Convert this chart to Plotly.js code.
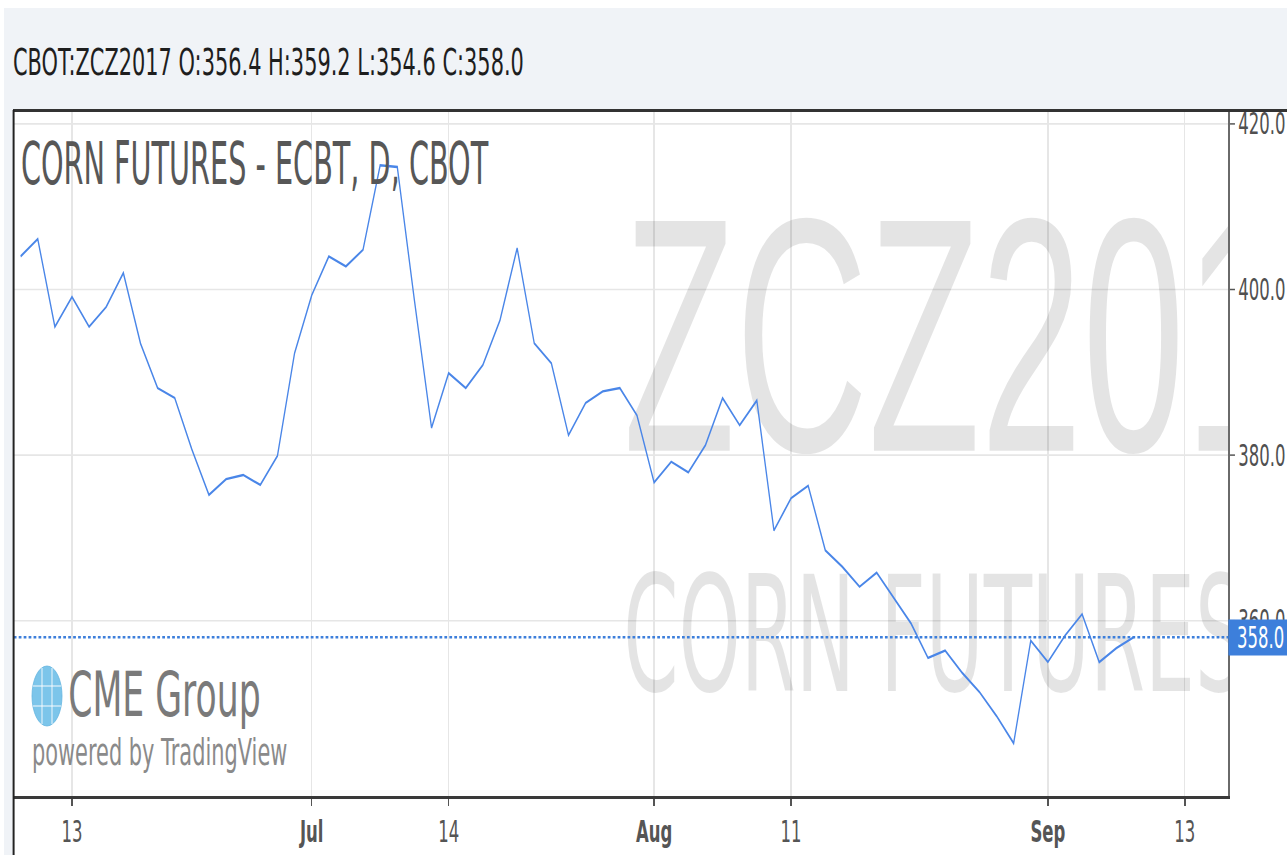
<!DOCTYPE html>
<html>
<head>
<meta charset="utf-8">
<script src="https://cdn.plot.ly/plotly-3.0.1.min.js"></script>
<style>
  html, body { margin: 0; padding: 0; overflow: hidden; background: #ffffff; }
  #wrap { width: 1287px; height: 855px; overflow: hidden; position: relative; }
  #chart { width: 2340px; height: 855px; transform: scaleX(0.55); transform-origin: 0 0; }
</style>
</head>
<body>
<div id="wrap"><div id="chart"></div></div>
<script>
// ---------------- data ----------------
const symbol = "CBOT:ZCZ2017";
const ohlc = { O: 356.4, H: 359.2, L: 354.6, C: 358.0 };
const chartTitle = "CORN FUTURES - ECBT, D, CBOT";
const watermarkLines = ["ZCZ2017", "CORN FUTURES"];

const tradingDays = [
  "2017-06-08","2017-06-09","2017-06-12","2017-06-13","2017-06-14","2017-06-15","2017-06-16",
  "2017-06-19","2017-06-20","2017-06-21","2017-06-22","2017-06-23","2017-06-26","2017-06-27",
  "2017-06-28","2017-06-29","2017-06-30","2017-07-03","2017-07-05","2017-07-06","2017-07-07",
  "2017-07-10","2017-07-11","2017-07-12","2017-07-13","2017-07-14","2017-07-17","2017-07-18",
  "2017-07-19","2017-07-20","2017-07-21","2017-07-24","2017-07-25","2017-07-26","2017-07-27",
  "2017-07-28","2017-07-31","2017-08-01","2017-08-02","2017-08-03","2017-08-04","2017-08-07",
  "2017-08-08","2017-08-09","2017-08-10","2017-08-11","2017-08-14","2017-08-15","2017-08-16",
  "2017-08-17","2017-08-18","2017-08-21","2017-08-22","2017-08-23","2017-08-24","2017-08-25",
  "2017-08-28","2017-08-29","2017-08-30","2017-08-31","2017-09-01","2017-09-04","2017-09-05",
  "2017-09-06","2017-09-07","2017-09-08"
];
const futureDays = ["2017-09-11","2017-09-12","2017-09-13","2017-09-14","2017-09-15"];

const closePrices = [
  404.0, 406.1, 395.5, 399.1, 395.5, 397.9, 402.0,
  393.5, 388.1, 386.9, 380.7, 375.2, 377.1, 377.6,
  376.4, 379.9, 392.3, 399.3, 404.0, 402.8, 404.8,
  415.0, 414.8, 398.7, 383.3, 389.9, 388.1, 390.9,
  396.3, 405.0, 393.5, 391.1, 382.4, 386.3, 387.7,
  388.1, 384.8, 376.7, 379.2, 377.9, 381.2, 386.9,
  383.6, 386.6, 370.9, 374.8, 376.3, 368.5, 366.5,
  364.1, 365.8, 362.7, 359.7, 355.5, 356.4, 353.7,
  351.4, 348.5, 345.2, 357.6, 355.0, 358.2, 360.8,
  355.0, 356.7, 358.0
];

const tickDays   = ["2017-06-13","2017-07-03","2017-07-14","2017-08-01","2017-08-11","2017-09-01","2017-09-13"];
const tickLabels = ["13","Jul","14","Aug","11","Sep","13"];
const priceTicks = [360, 380, 400, 420];

// ---------------- geometry helpers ----------------
const S = 0.55;                 // horizontal squeeze of the picture
const W = 2340, H = 855;
const M = { l: 25, r: 107, t: 110, b: 59 };
const PW = W - M.l - M.r, PH = H - M.t - M.b;
const fx = px => (px / S - M.l) / PW;
const fy = py => 1 - (py - M.t) / PH;

const axisDays = tradingDays.concat(futureDays);
const xIdx = d => axisDays.indexOf(d);
const xs = tradingDays.map(d => xIdx(d));
const last = closePrices[closePrices.length - 1];

const header = `${symbol} O:${ohlc.O.toFixed(1)} H:${ohlc.H.toFixed(1)} L:${ohlc.L.toFixed(1)} C:${ohlc.C.toFixed(1)}`;
const ticktext = tickLabels.map(t => /^[A-Za-z]/.test(t) ? `<b>${t}</b>` : t);

const wmX = xIdx("2017-07-31") - 0.8;
const watermark = {
  type: "scatter", mode: "text",
  x: [wmX, wmX],
  y: [390.6, 356.4],
  text: watermarkLines,
  textposition: "middle right",
  textfont: {
    family: ["Liberation Sans, Arial, sans-serif", "DejaVu Sans Condensed, Liberation Sans, sans-serif"],
    size: [334, 160], color: "rgba(0,0,0,0.105)"
  },
  cliponaxis: true, hoverinfo: "skip", showlegend: false
};

const priceLine = {
  type: "scatter", mode: "lines",
  x: xs, y: closePrices,
  line: { color: "#4a86e8", width: 2.4 },
  hoverinfo: "skip", showlegend: false
};

const headerFill = "#f0f3f7";
const layout = {
  width: W, height: H,
  margin: M,
  paper_bgcolor: "#ffffff", plot_bgcolor: "#ffffff",
  showlegend: false,
  title: {
    text: header, xref: "container", yref: "container",
    x: (13 / S) / W, xanchor: "left", y: 1 - 62 / H, yanchor: "middle",
    font: { family: "DejaVu Sans, sans-serif", size: 38, color: "#1e1e1e" }
  },
  xaxis: {
    range: [-0.402, 70.53], fixedrange: true,
    tickvals: tickDays.map(xIdx), ticktext: ticktext,
    ticks: "outside", ticklen: 7, tickwidth: 2.7, tickcolor: "#555",
    showline: true, linecolor: "#3a3a3a", linewidth: 3,
    showgrid: true, gridcolor: "#e6e6e6", gridwidth: 2.4,
    zeroline: false,
    tickfont: { family: "DejaVu Sans, sans-serif", size: 30, color: "#555" }
  },
  yaxis: {
    side: "right", range: [338.83, 421.68], fixedrange: true,
    tickvals: priceTicks, ticktext: priceTicks.map(v => v.toFixed(1)),
    ticks: "outside", ticklen: 9, tickwidth: 1.5, tickcolor: "#555",
    showline: true, linecolor: "#6a6a6a", linewidth: 3.4,
    showgrid: true, gridcolor: "#e6e6e6", gridwidth: 1.6,
    zeroline: false,
    tickfont: { family: "DejaVu Sans, sans-serif", size: 30, color: "#505050" }
  },
  shapes: [
    { type: "line", xref: "paper", yref: "y", x0: 0, x1: 1, y0: last, y1: last,
      line: { color: "#3d7fdb", width: 2.5, dash: "5px,4px" }, layer: "above" },
    { type: "rect", xref: "paper", yref: "paper", x0: fx(4), x1: fx(1300), y0: fy(8), y1: fy(110),
      fillcolor: headerFill, line: { width: 0 }, layer: "above" },
    { type: "rect", xref: "paper", yref: "paper", x0: fx(4), x1: fx(13), y0: fy(110), y1: fy(860),
      fillcolor: headerFill, line: { width: 0 }, layer: "above" },
    { type: "line", xref: "paper", yref: "paper", x0: fx(13), x1: fx(1300), y0: fy(110.5), y1: fy(110.5),
      line: { color: "#333", width: 3 }, layer: "above" },
    { type: "line", xref: "paper", yref: "paper", x0: fx(13.6), x1: fx(13.6), y0: fy(110), y1: fy(860),
      line: { color: "#222", width: 3.6 }, layer: "above" },
    // CME globe
    { type: "circle", xref: "paper", yref: "paper", x0: fx(32), x1: fx(62), y0: fy(666), y1: fy(726),
      fillcolor: "#7cc5ea", line: { color: "#62b4e0", width: 1 }, layer: "above" },
    { type: "line", xref: "paper", yref: "paper", x0: fx(33), x1: fx(61), y0: fy(686), y1: fy(686),
      line: { color: "rgba(255,255,255,0.8)", width: 1.2 }, layer: "above" },
    { type: "line", xref: "paper", yref: "paper", x0: fx(33), x1: fx(61), y0: fy(706), y1: fy(706),
      line: { color: "rgba(255,255,255,0.8)", width: 1.2 }, layer: "above" },
    { type: "line", xref: "paper", yref: "paper", x0: fx(42), x1: fx(42), y0: fy(668), y1: fy(724),
      line: { color: "rgba(255,255,255,0.8)", width: 2 }, layer: "above" },
    { type: "line", xref: "paper", yref: "paper", x0: fx(52), x1: fx(52), y0: fy(668), y1: fy(724),
      line: { color: "rgba(255,255,255,0.8)", width: 2 }, layer: "above" }
  ],
  annotations: [
    { text: chartTitle, xref: "paper", yref: "paper", x: fx(20), y: fy(164),
      xanchor: "left", yanchor: "middle", showarrow: false,
      font: { family: "DejaVu Sans Condensed, Liberation Sans, sans-serif", size: 58, color: "#575757" } },
    { text: "CME Group", xref: "paper", yref: "paper", x: fx(67), y: fy(694),
      xanchor: "left", yanchor: "middle", showarrow: false,
      font: { family: "DejaVu Sans, sans-serif", size: 63, color: "#7a7a7a" } },
    { text: "powered by TradingView", xref: "paper", yref: "paper", x: fx(31), y: fy(752),
      xanchor: "left", yanchor: "middle", showarrow: false,
      font: { family: "DejaVu Sans, sans-serif", size: 38, color: "#8a8a8a" } },
    { text: last.toFixed(1), xref: "paper", yref: "y", x: 1, y: last,
      xanchor: "left", yanchor: "middle", showarrow: false,
      bgcolor: "#3d7fdb", borderpad: 0, width: 116, align: "center",
      font: { family: "DejaVu Sans, sans-serif", size: 30, color: "#ffffff" } }
  ]
};

Plotly.newPlot("chart", [watermark, priceLine], layout, { staticPlot: true, displayModeBar: false });
</script>
</body>
</html>
